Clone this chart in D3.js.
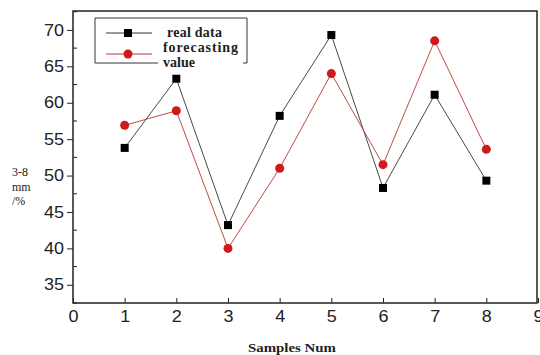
<!DOCTYPE html>
<html>
<head>
<meta charset="utf-8">
<script src="https://cdn.jsdelivr.net/npm/d3@7"></script>
<style>
  body { margin: 0; background: #fff; }
  .tick text { font-family: "Liberation Sans", Arial, sans-serif; }
</style>
</head>
<body>
<div id="chart"></div>
<script>
const samples = [1, 2, 3, 4, 5, 6, 7, 8];
const realData = [53.8, 63.3, 43.2, 58.2, 69.3, 48.3, 61.1, 49.3];
const forecastValue = [56.9, 58.9, 40.0, 51.0, 64.0, 51.5, 68.5, 53.6];
const xTicks = [0, 1, 2, 3, 4, 5, 6, 7, 8, 9];
const yTicks = [35, 40, 45, 50, 55, 60, 65, 70];

const width = 540, height = 355;
const margin = { top: 11, right: 2, bottom: 52, left: 73 };

const svg = d3.select("#chart").append("svg")
  .attr("width", width)
  .attr("height", height);

const x = d3.scaleLinear().domain([0, 9])
  .range([margin.left, width - margin.right]);
const y = d3.scaleLinear().domain([32.5, 72.6])
  .range([height - margin.bottom, margin.top]);

// minor y ticks
svg.append("g")
  .selectAll("line")
  .data(d3.range(32.5, 72.6, 2.5).filter(v => v % 5 !== 0))
  .join("line")
    .attr("x1", margin.left)
    .attr("x2", margin.left + 4)
    .attr("y1", d => y(d))
    .attr("y2", d => y(d))
    .attr("stroke", "#222");

const yAxis = svg.append("g")
  .attr("transform", `translate(${margin.left},0)`)
  .call(d3.axisLeft(y).tickValues(yTicks).tickSize(6).tickSizeOuter(0));
yAxis.select(".domain").remove();
yAxis.selectAll(".tick line").attr("x2", -6).attr("x1", 0).attr("stroke", "#222");
yAxis.selectAll(".tick text").attr("font-size", 16).attr("fill", "#222").attr("x", -9)
  .attr("textLength", 20).attr("lengthAdjust", "spacingAndGlyphs");

const xAxis = svg.append("g")
  .attr("transform", `translate(0,${height - margin.bottom})`)
  .call(d3.axisBottom(x).tickValues(xTicks).tickSize(-5).tickSizeOuter(0));
xAxis.select(".domain").remove();
xAxis.selectAll(".tick line").attr("stroke", "#222");
xAxis.selectAll(".tick text").attr("font-size", 16).attr("fill", "#222").attr("y", 8)
  .attr("textLength", 10).attr("lengthAdjust", "spacingAndGlyphs");

// frame
svg.append("rect")
  .attr("x", margin.left)
  .attr("y", margin.top)
  .attr("width", width - margin.left - margin.right - 1)
  .attr("height", height - margin.top - margin.bottom)
  .attr("fill", "none")
  .attr("stroke", "#222")
  .attr("stroke-width", 1.5);

const series = [
  { name: "real", values: realData, line: "#333" },
  { name: "forecast", values: forecastValue, line: "#b5392f" }
];

const line = d3.line().x((d, i) => x(samples[i])).y(d => y(d));

series.forEach(s => {
  svg.append("path")
    .datum(s.values)
    .attr("d", line)
    .attr("fill", "none")
    .attr("stroke", s.line)
    .attr("stroke-width", 0.9);
});

svg.append("g").selectAll("rect")
  .data(realData)
  .join("rect")
    .attr("x", (d, i) => x(samples[i]) - 4)
    .attr("y", d => y(d) - 4)
    .attr("width", 8)
    .attr("height", 8)
    .attr("fill", "#000");

svg.append("g").selectAll("circle")
  .data(forecastValue)
  .join("circle")
    .attr("cx", (d, i) => x(samples[i]))
    .attr("cy", d => y(d))
    .attr("r", 4.5)
    .attr("fill", "#d01a1a");

// legend
const legend = svg.append("g").attr("font-family", "'Liberation Serif', 'Times New Roman', serif")
  .attr("font-weight", "bold").attr("font-size", 14).attr("fill", "#222");
legend.append("path")
  .attr("d", "M95,63 L95,18 L247,18 L247,63 L243,63 M95,63 L158,63")
  .attr("fill", "none")
  .attr("stroke", "#333")
  .attr("stroke-width", 1);
legend.append("line").attr("x1", 106).attr("x2", 152).attr("y1", 33).attr("y2", 33).attr("stroke", "#333");
legend.append("rect").attr("x", 124).attr("y", 29).attr("width", 8).attr("height", 8).attr("fill", "#000");
legend.append("line").attr("x1", 106).attr("x2", 152).attr("y1", 54).attr("y2", 54).attr("stroke", "#b5392f");
legend.append("circle").attr("cx", 128).attr("cy", 54).attr("r", 4.5).attr("fill", "#d01a1a");
legend.append("text").attr("x", 167).attr("y", 37).attr("textLength", 55).text("real data");
legend.append("text").attr("x", 163).attr("y", 52).attr("textLength", 75).text("forecasting");
legend.append("text").attr("x", 163).attr("y", 67).text("value");

// axis titles
const yLabel = svg.append("text")
  .attr("font-family", "'Liberation Serif', 'Times New Roman', serif")
  .attr("font-size", 12)
  .attr("fill", "#222");
yLabel.append("tspan").attr("x", 12).attr("y", 176).text("3-8");
yLabel.append("tspan").attr("x", 12).attr("y", 191).text("mm");
yLabel.append("tspan").attr("x", 12).attr("y", 205).text("/%");

svg.append("text")
  .attr("x", 292)
  .attr("y", 352)
  .attr("text-anchor", "middle")
  .attr("font-family", "'Liberation Serif', 'Times New Roman', serif")
  .attr("font-weight", "bold")
  .attr("font-size", 12)
  .attr("textLength", 88)
  .attr("lengthAdjust", "spacingAndGlyphs")
  .attr("fill", "#222")
  .text("Samples Num");
</script>
</body>
</html>
